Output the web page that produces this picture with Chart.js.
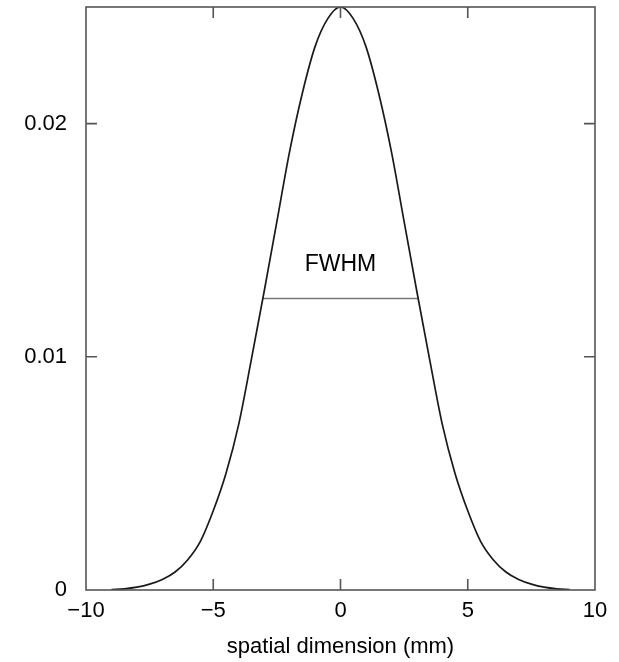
<!DOCTYPE html>
<html>
<head>
<meta charset="utf-8">
<script src="https://cdn.jsdelivr.net/npm/chart.js@4.4.1/dist/chart.umd.min.js"></script>
<style>
  html, body { margin: 0; padding: 0; background: #fff; }
  #wrap { width: 619px; height: 662px; }
</style>
</head>
<body>
<div id="wrap"><canvas id="fwhmChart" width="619" height="662"></canvas></div>
<script>
// values (x in mm, y = signal)
const xPos = [0, 0.5, 1, 1.5, 2, 2.5, 3, 3.5, 4, 4.5, 5, 5.5, 6, 6.5, 7, 7.5, 8, 8.5, 9];
const yPos = [0.0250, 0.0245, 0.0233, 0.0213, 0.0188, 0.0158, 0.0128, 0.0099, 0.0071, 0.0050,
              0.0034, 0.0021, 0.0013, 0.00077, 0.00045, 0.00025, 0.00012, 0.00005, 0.00002];
const fwhmX = [-3.08, 3.08];
const fwhmY = [0.0125, 0.0125];
const fwhmText = 'FWHM';
const xTicks = [-10, -5, 0, 5, 10];
const yTicks = [0, 0.01, 0.02];
const yTickLabels = ['0', '0.01', '0.02'];

// curve is symmetric: mirror the positive half
const curveX = xPos.slice(1).reverse().map(v => -v).concat(xPos);
const curveY = yPos.slice(1).reverse().concat(yPos);
const curve = curveX.map((x, i) => ({ x: x, y: curveY[i] }));
const fwhm = fwhmX.map((x, i) => ({ x: x, y: fwhmY[i] }));

const tickFont = { family: "'Liberation Sans', Arial, sans-serif", size: 22 };

// frame + inward ticks like the original gnuplot figure
const framePlugin = {
    id: 'frame',
    afterDatasetsDraw(chart) {
        const { ctx, chartArea: a, scales: { x, y } } = chart;
        ctx.save();
        ctx.strokeStyle = '#555';
        ctx.lineWidth = 1.6;
        ctx.strokeRect(a.left, a.top, a.right - a.left, a.bottom - a.top);
        const len = 11;
        ctx.beginPath();
        xTicks.forEach(v => {
            const px = x.getPixelForValue(v);
            if (v === -10 || v === 10) return;
            ctx.moveTo(px, a.bottom); ctx.lineTo(px, a.bottom - len);
            ctx.moveTo(px, a.top); ctx.lineTo(px, a.top + len);
        });
        yTicks.forEach(v => {
            if (v === 0) return;
            const py = y.getPixelForValue(v);
            ctx.moveTo(a.left, py); ctx.lineTo(a.left + len, py);
            ctx.moveTo(a.right, py); ctx.lineTo(a.right - len, py);
        });
        ctx.stroke();

        ctx.fillStyle = '#000';
        ctx.font = "23px 'Liberation Sans', Arial, sans-serif";
        ctx.textAlign = 'center';
        ctx.textBaseline = 'middle';
        ctx.fillText(fwhmText, x.getPixelForValue(0), y.getPixelForValue(0.01395));
        ctx.restore();
    }
};

new Chart(document.getElementById('fwhmChart'), {
    type: 'line',
    data: {
        datasets: [{
            data: curve,
            borderColor: '#1a1a1a',
            borderWidth: 1.7,
            pointRadius: 0,
            cubicInterpolationMode: 'monotone',
            fill: false
        }, {
            data: fwhm,
            borderColor: '#777',
            borderWidth: 1.6,
            pointRadius: 0,
            fill: false
        }]
    },
    options: {
        responsive: false,
        animation: false,
        layout: { padding: { top: 7, right: 24, left: 0, bottom: 0 } },
        plugins: {
            legend: { display: false },
            tooltip: { enabled: false }
        },
        scales: {
            x: {
                type: 'linear',
                min: -10,
                max: 10,
                afterBuildTicks: s => { s.ticks = xTicks.map(v => ({ value: v })); },
                afterFit: s => { s.height = 72; },
                grid: { display: false, tickLength: 0 },
                border: { display: false },
                ticks: {
                    color: '#000',
                    font: tickFont,
                    padding: 8,
                    maxRotation: 0,
                    callback: v => String(v).replace('-', '\u2212')
                },
                title: {
                    display: true,
                    text: 'spatial dimension (mm)',
                    color: '#000',
                    font: tickFont,
                    padding: { top: 0, bottom: 2 }
                }
            },
            y: {
                type: 'linear',
                min: 0,
                max: 0.025,
                afterBuildTicks: s => { s.ticks = yTicks.map(v => ({ value: v })); },
                afterFit: s => { s.width = 86; s.paddingTop = 0; s.paddingBottom = 0; },
                grid: { display: false },
                border: { display: false },
                ticks: {
                    color: '#000',
                    font: tickFont,
                    padding: 11,
                    callback: v => yTickLabels[yTicks.indexOf(v)]
                }
            }
        }
    },
    plugins: [framePlugin]
});
</script>
</body>
</html>
